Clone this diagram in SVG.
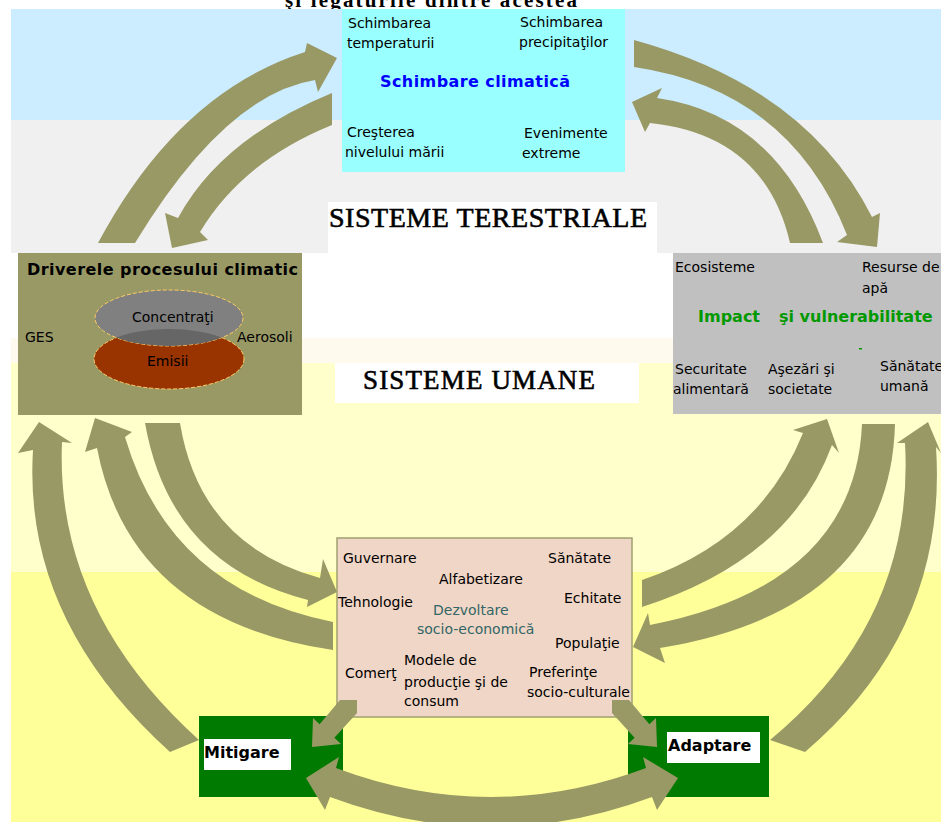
<svg xmlns="http://www.w3.org/2000/svg" width="941" height="822" viewBox="0 0 941 822">
<defs>
<style>
.arr{fill:#999966}
.t{font-family:"DejaVu Sans","Liberation Sans",sans-serif;font-size:14px;fill:#000}
.bt{font-family:"DejaVu Sans","Liberation Sans",sans-serif;font-weight:bold;font-size:16px}
.sf{font-family:"Liberation Serif","DejaVu Serif",serif;fill:#000}
.big{stroke:#000;stroke-width:0.6}
.ell{stroke:#FFCC66;stroke-width:1;stroke-dasharray:4 2}
</style>
<clipPath id="gclip"><ellipse cx="169" cy="318" rx="74" ry="28"/></clipPath>
</defs>
<rect width="941" height="822" fill="#ffffff"/>
<text class="sf" x="285" y="7" font-size="21" font-weight="bold" textLength="292">şi legăturile dintre acestea</text>
<g id="background">
<rect x="11" y="9" width="930" height="111" fill="#CCECFF"/>
<rect x="11" y="120" width="930" height="133" fill="#F0F0F0"/>
<rect x="11" y="253" width="930" height="85" fill="#FFFFFF"/>
<rect x="11" y="338" width="930" height="25" fill="#FFFAEE"/>
<rect x="11" y="363" width="930" height="209" fill="#FFFFCC"/>
<rect x="11" y="572" width="930" height="250" fill="#FFFF99"/>
</g>
<g id="label-terestriale">
<rect x="328" y="202" width="329" height="51" fill="#FFFFFF"/>
<text class="sf big" x="329" y="227" font-size="28" textLength="318">SISTEME TERESTRIALE</text>
</g>
<g id="label-umane">
<rect x="335" y="363" width="304" height="40" fill="#FFFFFF"/>
<text class="sf big" x="363" y="389" font-size="27" textLength="232">SISTEME UMANE</text>
</g>
<g id="node-climate">
<rect x="342" y="9" width="283" height="163" fill="#99FFFF"/>
<text class="t" x="348" y="28">Schimbarea</text>
<text class="t" x="347" y="48">temperaturii</text>
<text class="t" x="520" y="27">Schimbarea</text>
<text class="t" x="519" y="47">precipitaţilor</text>
<text class="bt" x="380" y="87" font-size="17" fill="#0000FF" textLength="190">Schimbare climatică</text>
<text class="t" x="347" y="137">Creşterea</text>
<text class="t" x="345" y="157">nivelului mării</text>
<text class="t" x="524" y="138">Evenimente</text>
<text class="t" x="522" y="158">extreme</text>
</g>
<g id="node-drivers">
<rect x="18" y="253" width="284" height="162" fill="#999966"/>
<text class="bt" x="27" y="275" fill="#000" textLength="271">Driverele procesului climatic</text>
<ellipse class="ell" cx="169" cy="359" rx="75" ry="30" fill="#993300"/>
<ellipse class="ell" cx="169" cy="318" rx="74" ry="28" fill="#808080"/>
<ellipse cx="169" cy="359" rx="75" ry="30" fill="#666666" clip-path="url(#gclip)"/>
<text class="t" x="132" y="322">Concentraţi</text>
<text class="t" x="147" y="366">Emisii</text>
<text class="t" x="25" y="342">GES</text>
<text class="t" x="237" y="342">Aerosoli</text>
</g>
<g id="node-impact">
<rect x="673" y="253" width="268" height="161" fill="#C0C0C0"/>
<text class="t" x="675" y="272">Ecosisteme</text>
<text class="t" x="862" y="272">Resurse de</text>
<text class="t" x="862" y="293">apă</text>
<text class="bt" x="698" y="322" fill="#009900">Impact</text>
<text class="bt" x="779" y="322" fill="#009900">şi vulnerabilitate</text>
<rect x="859" y="348" width="3" height="1.5" fill="#009900"/>
<text class="t" x="675" y="374">Securitate</text>
<text class="t" x="673" y="394">alimentară</text>
<text class="t" x="768" y="374">Aşezări şi</text>
<text class="t" x="768" y="394">societate</text>
<text class="t" x="880" y="371">Sănătate</text>
<text class="t" x="880" y="391">umană</text>
</g>
<g id="node-development">
<rect x="337" y="538" width="295" height="179" fill="#F0D6C6" stroke="#A0A070" stroke-width="1.5"/>
<text class="t" x="343" y="563">Guvernare</text>
<text class="t" x="548" y="563">Sănătate</text>
<text class="t" x="439" y="584">Alfabetizare</text>
<text class="t" x="338" y="607">Tehnologie</text>
<text class="t" x="564" y="603">Echitate</text>
<text class="t" x="433" y="615" font-size="15" style="fill:#336666">Dezvoltare</text>
<text class="t" x="417" y="634" font-size="15" style="fill:#336666">socio-economică</text>
<text class="t" x="555" y="648">Populaţie</text>
<text class="t" x="345" y="678">Comerţ</text>
<text class="t" x="404" y="665">Modele de</text>
<text class="t" x="404" y="687">producţie şi de</text>
<text class="t" x="404" y="706">consum</text>
<text class="t" x="529" y="677">Preferinţe</text>
<text class="t" x="527" y="697">socio-culturale</text>
</g>
<g id="node-mitigare">
<rect x="199" y="716" width="144" height="81" fill="#007A00"/>
<rect x="204" y="739" width="87" height="31" fill="#FFFFFF"/>
<text class="bt" x="204" y="758" fill="#000">Mitigare</text>
</g>
<g id="node-adaptare">
<rect x="628" y="716" width="141" height="81" fill="#007A00"/>
<rect x="667" y="732" width="93" height="31" fill="#FFFFFF"/>
<text class="bt" x="668" y="751" fill="#000">Adaptare</text>
</g>
<g id="connectors">
<path class="arr" d="M98,243 Q178.5,92.5 305,52 L307,43 L337,58 L318,92 L315,80 Q225,94.5 135,243 Z"/>
<path class="arr" d="M332,93 Q221,138.5 178,218 L165,213 L172,248 L208,240 L200,232 Q242,161.5 332,125 Z"/>
<path class="arr" d="M634,40 Q807,87.5 872,217 L880,213 L877,247 L837,242 L847,235 Q790,90 634,67 Z"/>
<path class="arr" d="M823,243 Q775,115 657,98 L662,88 L632,102 L645,132 L650,123 Q765,135 790,243 Z"/>
<path class="arr" d="M33,450 L18,453 L39,422 L72,443 L62,442 Q55,610 199,740 L170,752 Q22.5,619 33,450 Z"/>
<path class="arr" d="M97,448 L85,452 L95,418 L132,432 L125,437 Q170,590 333,622 L333,650 Q130,620 97,448 Z"/>
<path class="arr" d="M145,423 L180,423 Q200,545 320,578 L323,559 L337,592 L307,607 L308,600 Q170,565 145,423 Z"/>
<path class="arr" d="M642,580 Q760,540 803,433 L793,430 L827,419 L839,453 L832,445 Q790,560 642,607 Z"/>
<path class="arr" d="M862,424 L895,424 Q890,610 660,648 L665,663 L633,647 L648,613 L650,625 Q855,585 862,424 Z"/>
<path class="arr" d="M905,443 L897,443 L928,422 L941,453 L936,447 Q948,630 805,752 L770,740 Q915,620 905,443 Z"/>
<path class="arr" d="M340,700 L357,700 L357,713 L334.4,737.8 L341,743.9 L312,747 L313,718 L319.6,724.2 Z"/>
<path class="arr" d="M629,700 L612,700 L612,713 L634.6,737.8 L628,743.9 L657,747 L656,718 L649.4,724.2 Z"/>
<path class="arr" d="M336,768 Q491,826 646,768 L643,757 L678,778 L657,810 L652,797 Q491,857 330,797 L325,810 L306,778 L339,757 Z"/>
</g>
</svg>
